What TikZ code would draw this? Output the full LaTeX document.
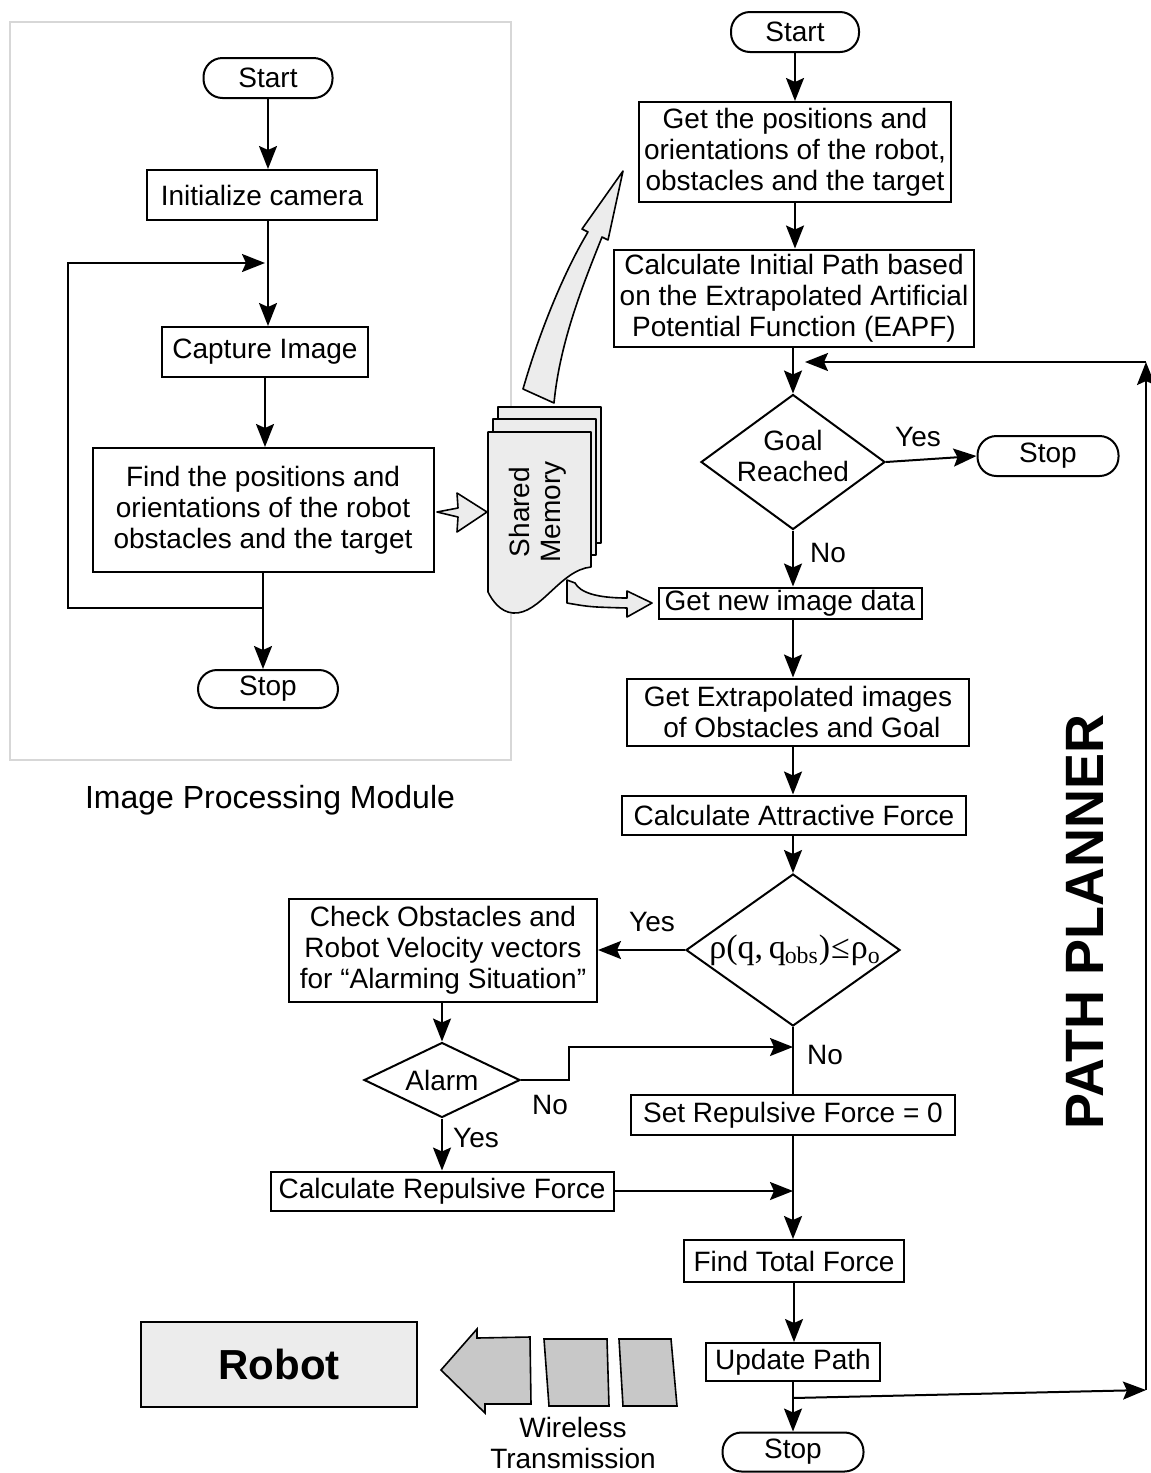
\documentclass[tikz,border=0pt]{standalone}
\usepackage{fontspec}
\setmainfont{Liberation Sans}
\newfontfamily\rhofont{Liberation Serif}
\usetikzlibrary{arrows.meta,shapes.geometric}
\definecolor{panelgray}{RGB}{236,236,236}
\definecolor{wavegray}{RGB}{200,200,200}
\definecolor{framegray}{RGB}{215,215,215}

\begin{document}
\begin{tikzpicture}[x=0.5pt, y=-0.5pt,
    font=\fontsize{14}{15.5}\selectfont,
    line width=1pt,
    >={Stealth[length=11.5pt,width=9pt,inset=2pt]},
    box/.style={draw, align=center, inner sep=0pt},
    term/.style={draw, rounded corners=9.5pt, inner sep=0pt},
    decision/.style={draw, diamond, inner sep=0pt},
    fat/.style={draw, fill=panelgray, line width=0.8pt, line join=round}]
    \useasboundingbox (0,0) rectangle (1151,1473);

    % image processing module
    \draw[framegray] (10,22) rectangle (511,760);
    \node[term, minimum width=64.5pt, minimum height=20pt] (start1) at (268,78) {Start};
    \node[box, minimum width=115pt, minimum height=25pt] (init) at (262,195) {Initialize camera};
    \node[box, minimum width=103pt, minimum height=25pt] (capture) at (265,352) {Capture Image};
    \node[box, minimum width=170.5pt, minimum height=62pt] (find) at (263,510)
        {Find the positions and\\orientations of the robot\\obstacles and the target};
    \node[term, minimum width=70pt, minimum height=19pt] (stop1) at (268,689) {Stop};
    \node[font=\fontsize{16}{18}\selectfont] (ipm) at (270,800) {Image Processing Module};

    \draw[->] (start1) -- (start1.south |- init.north);
    \draw[->] (init.south -| start1.south) -- (start1.south |- capture.north);
    \draw[->] (capture) -- (capture.south |- find.north);
    \draw[->] (find) -- (find.south |- stop1.north);
    \coordinate (lbot) at (262,608);
    \coordinate (ltop) at (265,263);
    \draw[->] (lbot) -- (68,608) -- (68,263) -- (ltop);

    % shared memory
    \draw[fat] (498,407) rectangle (601,543);
    \draw[fat] (493,419) rectangle (596,555);
    \draw[fat] (488,432) -- (591,432) -- (591,567)
        .. controls (560,570) and (540,615) .. (513,613)
        .. controls (500,612) and (492,600) .. (488,592) -- cycle;
    \node[rotate=90, align=center] (shm) at (538,512) {Shared\\Memory};
    \draw[fat] (437,512) -- (458,508) -- (457,493) -- (487,512) -- (457,532) -- (458,517) -- cycle;
    \draw[fat] (523,389) .. controls (540,330) and (565,270) .. (588,232) -- (582,229) -- (623,171)
        -- (608,240) -- (602,237) .. controls (585,280) and (560,340) .. (554,403) -- cycle;
    \draw[fat] (567,580) -- (567,603) .. controls (590,607) .. (627,608) -- (627,617) -- (652,603)
        -- (627,591) -- (627,598) .. controls (595,598) and (580,592) .. (575,583) -- cycle;

    % path planner
    \node[term, minimum width=64pt, minimum height=20pt] (start2) at (795,32) {Start};
    \node[box, minimum width=156pt, minimum height=50pt] (getpos) at (795,152)
        {Get the positions and\\orientations of the robot,\\obstacles and the target};
    \node[box, minimum width=180pt, minimum height=48.5pt] (initpath) at (794,298)
        {Calculate Initial Path based\\on the Extrapolated Artificial\\Potential Function (EAPF)};
    \node[decision, minimum width=92pt, minimum height=67.5pt,
        label={[align=center, yshift=3pt]center:Goal\\Reached}] (goal) at (793,462) {};
    \node[term, minimum width=70.5pt, minimum height=20pt] (stop3) at (1048,456) {Stop};
    \node[box, minimum width=131.5pt, minimum height=15.5pt] (getnew) at (790,603) {Get new image data};
    \node[box, minimum width=171pt, minimum height=33.5pt] (extrap) at (798,712)
        {Get Extrapolated images\\\ of Obstacles and Goal};
    \node[box, minimum width=172pt, minimum height=19.5pt] (attract) at (794,815) {Calculate Attractive Force};
    \node[decision, minimum width=107pt, minimum height=76pt,
        label={[xshift=1pt, font=\rhofont\fontsize{17}{19}\selectfont]center:ρ(q,\,q\kern-0.5pt\textsubscript{obs})\kern0.5pt≤\kern0.5pt ρ\textsubscript{o}}] (rho) at (793,950) {};
    \node[box, minimum width=154pt, minimum height=51.5pt] (check) at (443,950)
        {Check Obstacles and\\Robot Velocity vectors\\for “Alarming Situation”};
    \node[decision, minimum width=78pt, minimum height=37.5pt,
        label={center:Alarm}] (alarm) at (442,1080) {};
    \node[box, minimum width=162pt, minimum height=20pt] (setrep) at (793,1115) {Set Repulsive Force = 0};
    \node[box, minimum width=171.5pt, minimum height=19.5pt] (calcrep) at (442,1191) {Calculate Repulsive Force};
    \node[box, minimum width=110pt, minimum height=21pt] (total) at (794,1261) {Find Total Force};
    \node[box, minimum width=87pt, minimum height=19pt] (update) at (793,1362) {Update Path};
    \node[term, minimum width=70.5pt, minimum height=19.5pt] (stop4) at (793,1452) {Stop};
    \node[rotate=90, font=\fontsize{27}{30}\bfseries] (pp) at (1085,922) {PATH PLANNER};

    % labels
    \node (yes1) at (918,437) {Yes};
    \node (no1) at (828,553) {No};
    \node (yes2) at (652,922) {Yes};
    \node (no2) at (825,1055) {No};
    \node (no3) at (550,1105) {No};
    \node (yes3) at (476,1138) {Yes};

    % flow
    \draw[->] (start2) -- (start2.south |- getpos.north);
    \draw[->] (getpos) -- (getpos.south |- initpath.north);
    \draw[->] (initpath.south -| goal.north) -- (goal.north);
    \draw[->] (goal.east) -- (stop3.west);
    \draw[->] (goal.south) -- (goal.south |- getnew.north);
    \draw[->] (getnew.south -| goal.south) -- (goal.south |- extrap.north);
    \draw[->] (extrap.south -| goal.south) -- (goal.south |- attract.north);
    \draw[->] (attract.south -| rho.north) -- (rho.north);
    \draw[->] (rho.west) -- (check.east);
    \draw[->] (check.south -| alarm.north) -- (alarm.north);
    \draw (rho.south) -- (setrep.north -| rho.south);
    \coordinate (nojoin) at (793,1047);
    \draw[->] (alarm.east) -| (569,1047) -- (nojoin);
    \draw[->] (alarm.south) -- (alarm.south |- calcrep.north);
    \draw[->] (calcrep.east) -- (calcrep.east -| setrep.south);
    \draw[->] (setrep.south) -- (setrep.south |- total.north);
    \draw[->] (total.south) -- (total.south |- update.north);
    \draw[->] (update) -- (stop4);

    % loop back
    \coordinate (tap) at (793,1398);
    \coordinate (rc1) at (1146,1390);
    \coordinate (rc2) at (1146,362);
    \coordinate (gin) at (805,362);
    \draw[->] (tap) -- (rc1);
    \draw[->] (rc1) -- (rc2);
    \draw[->] (rc2) -- (gin);

    % robot and wireless link
    \node[draw, fill=panelgray, minimum width=138pt, minimum height=42.5pt,
        font=\fontsize{21}{24}\selectfont\bfseries] (robot) at (279,1364) {Robot};
    \draw[fill=wavegray, line width=0.8pt] (441,1370) -- (477,1329) -- (477,1338) -- (530,1337)
        -- (531,1404) -- (485,1404) -- (485,1413) -- cycle;
    \draw[fill=wavegray, line width=0.8pt] (544,1339) -- (607,1339) -- (609,1406) -- (549,1406) -- cycle;
    \draw[fill=wavegray, line width=0.8pt] (619,1339) -- (671,1339) -- (677,1406) -- (623,1406) -- cycle;
    \node[align=center] (wt) at (573,1443) {Wireless\\Transmission};
\end{tikzpicture}
\end{document}
